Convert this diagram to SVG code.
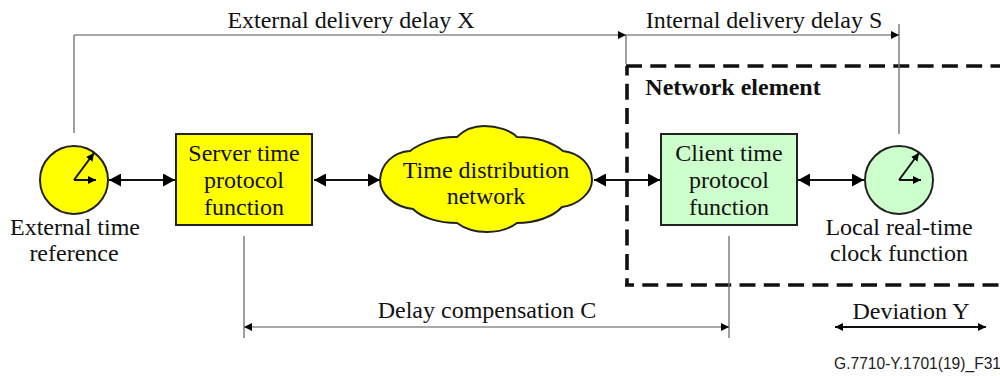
<svg xmlns="http://www.w3.org/2000/svg" width="1000" height="376" viewBox="0 0 1000 376">
<style>
text{font-family:"Liberation Serif","Times New Roman",serif;font-size:24px;fill:#111;text-anchor:middle}
.b{fill:#ff0;stroke:#222;stroke-width:2}
.g{fill:#ccffcc;stroke:#222;stroke-width:2}
.thin{stroke:#777;stroke-width:1.4;fill:none}
.dim{stroke:#555;stroke-width:1.2;fill:none}
.link{stroke:#111;stroke-width:2;fill:none}
.hand{stroke:#111;stroke-width:2;fill:none}
.dash{stroke:#111;stroke-width:3.6;fill:none;stroke-dasharray:16 8.3}
</style>
<defs>
<marker id="big" viewBox="0 0 12 13" refX="12" refY="6.5" markerWidth="12" markerHeight="13" markerUnits="userSpaceOnUse" orient="auto-start-reverse"><path d="M0,0L12,6.5L0,13z" fill="#000"/></marker>
<marker id="small" viewBox="0 0 8 8" refX="8" refY="4" markerWidth="8" markerHeight="8" markerUnits="userSpaceOnUse" orient="auto-start-reverse"><path d="M0,0L8,4L0,8z" fill="#000"/></marker>
</defs>
<g id="network-element"><path class="dash" d="M626 66H1010"/><path class="dash" stroke-dashoffset="6.5" d="M627 66V286"/><path class="dash" stroke-dashoffset="7" d="M625 285H1010"/><text x="733" y="95" style="font-weight:bold">Network element</text></g>
<g id="connectors">
<path class="thin" d="M74 133V35M626 35V64M899 24V134M244 236V338M729 236V338"/>
<path class="dim" d="M74 35H626" marker-end="url(#small)"/>
<path class="dim" d="M626 35H899" marker-end="url(#small)"/>
<path class="dim" d="M244 327H729" marker-start="url(#small)" marker-end="url(#small)"/>
<path class="link" d="M835 327H986" marker-start="url(#small)" marker-end="url(#small)"/>
<path class="link" d="M109 180H175" marker-start="url(#big)" marker-end="url(#big)"/>
<path class="link" d="M314 180H380" marker-start="url(#big)" marker-end="url(#big)"/>
<path class="link" d="M594 180H660" marker-start="url(#big)" marker-end="url(#big)"/>
<path class="link" d="M798 180H864" marker-start="url(#big)" marker-end="url(#big)"/>
</g>
<g id="external-time-reference"><circle class="b" cx="74" cy="180" r="34"/><path class="hand" d="M74 180L94 153" marker-end="url(#small)"/><path class="hand" d="M74 180H96" marker-end="url(#small)"/><text x="75" y="235">External time</text><text x="74" y="261">reference</text></g>
<g id="server-time"><rect class="b" x="176" y="134" width="136" height="91"/><text x="244" y="161">Server time</text><text x="244" y="188">protocol</text><text x="244" y="215">function</text></g>
<g id="time-distribution-network"><path class="b" d="M380 180C381 164 393 152 410 151C420 143 440 136 457 137C464 130 474 126 484 126C497 126 510 130 517 137C535 137 552 142 563 151C580 153 592 165 592 180C592 193 578 205 562 207C553 217 535 223 517 223C509 229 498 232 487 232C476 232 465 229 457 223C439 223 422 218 413 209C395 207 380 195 380 180Z"/><text x="486" y="178">Time distribution</text><text x="486" y="204">network</text></g>
<g id="client-time"><rect class="g" x="661" y="134" width="136" height="91"/><text x="729" y="161">Client time</text><text x="729" y="188">protocol</text><text x="729" y="215">function</text></g>
<g id="local-clock"><circle class="g" cx="899" cy="180" r="34"/><path class="hand" d="M899 180L919 153" marker-end="url(#small)"/><path class="hand" d="M899 180H921" marker-end="url(#small)"/><text x="899" y="235">Local real-time</text><text x="899" y="261">clock function</text></g>
<text x="351" y="28">External delivery delay X</text>
<text x="764" y="28">Internal delivery delay S</text>
<text x="487" y="318">Delay compensation C</text>
<text x="911" y="319">Deviation Y</text>
<text x="834" y="369" style="font-family:'Liberation Sans',Arial,sans-serif;font-size:15.6px;fill:#222;text-anchor:start">G.7710-Y.1701(19)_F31</text>
</svg>
